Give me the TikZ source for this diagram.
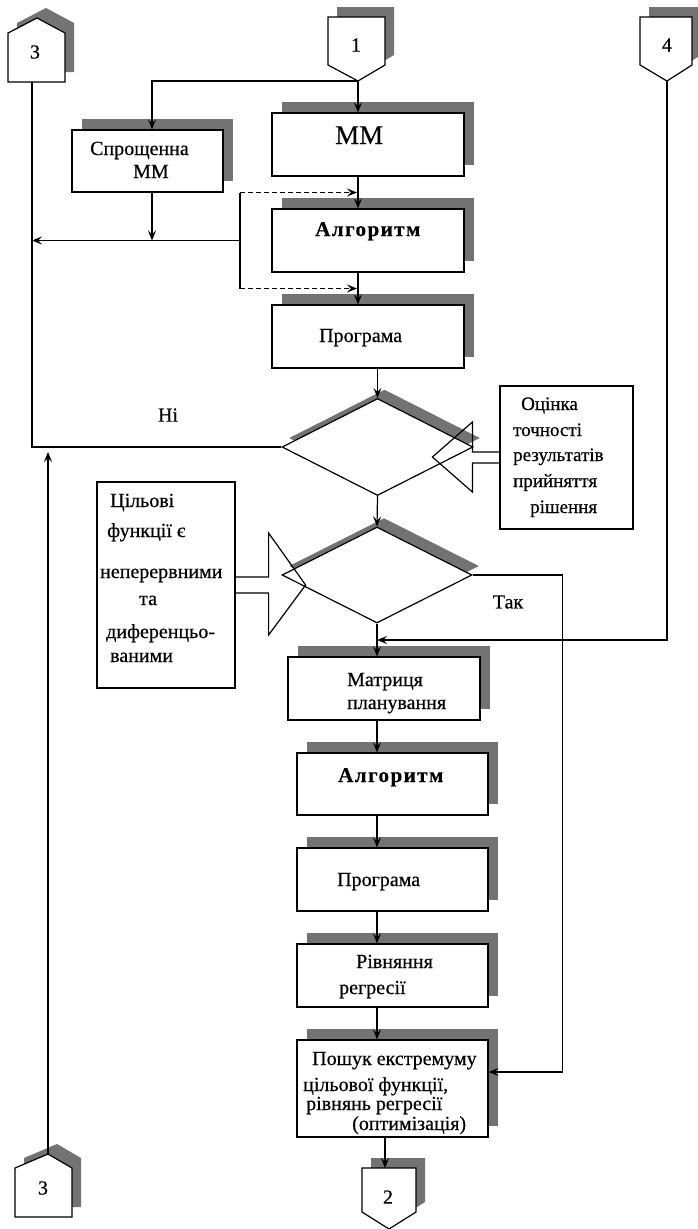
\documentclass[tikz,border=0pt]{standalone}
\usepackage{fontspec}
\setmainfont{Liberation Serif}[FakeBold=0.5]
\usetikzlibrary{shapes.geometric,arrows.meta,shadows,calc}
\colorlet{shd}{black!55}
\begin{document}
\begin{tikzpicture}[x=1pt,y=-1pt,
  every node/.style={font=\fontsize{20}{24}\selectfont},
  ln/.style={line width=1.2pt},
  arr/.style={ln,-{Stealth[length=10pt,width=8pt,inset=4pt]}},
  box/.style={draw,ln,fill=white,inner sep=0pt,
     drop shadow={shadow xshift=10pt,shadow yshift=11pt,fill=shd,opacity=1}},
  dia/.style={draw,ln,fill=white,diamond,inner sep=0pt,
     drop shadow={shadow xshift=7pt,shadow yshift=9pt,fill=shd,opacity=1}},
  note/.style={draw,ln,fill=white,inner sep=0pt},
  conn/.style={draw,ln,fill=white,
     drop shadow={shadow xshift=9pt,shadow yshift=10pt,fill=shd,opacity=1}},
  txt/.style={anchor=base west,inner sep=0pt},
  algo/.style={txt,font=\fontsize{21}{24}\selectfont\bfseries\addfontfeature{LetterSpace=7}},
  callout/.style={draw,ln},
  dsh/.style={dash pattern=on 5pt off 3pt},
]
\useasboundingbox (0,0) rectangle (698,1229);

% off-page connectors
\path[conn] (8,82) -- (8,33) -- (37,18) -- (65,33) -- (65,82) -- cycle;
\node (c3t) at (35,52) {3};
\coordinate (c3tb) at (32,82);

\path[conn] (328,17) -- (385,17) -- (385,65) -- (358,81) -- (328,65) -- cycle;
\node (c1) at (356,45) {1};
\coordinate (c1tip) at (358,81);

\path[conn] (640,17) -- (692,17) -- (692,65) -- (667,81) -- (640,65) -- cycle;
\node (c4) at (667,45) {4};
\coordinate (c4tip) at (667,81);

\path[conn] (362,1168) -- (416,1168) -- (416,1212) -- (389,1229) -- (362,1212) -- cycle;
\node (c2) at (388,1197) {2};
\coordinate (c2top) at (385,1168);

\path[conn] (15,1217) -- (15,1168) -- (48,1154) -- (72,1168) -- (72,1217) -- cycle;
\node (c3b) at (43,1188) {3};
\coordinate (c3bp) at (48,1154);

% boxes
\node[box,minimum width=151pt,minimum height=62pt] (spr) at (147.5,161) {};
\node[box,minimum width=192pt,minimum height=63pt] (mm) at (368,144.5) {};
\node[box,minimum width=192pt,minimum height=63pt] (alg1) at (368,240.5) {};
\node[box,minimum width=192pt,minimum height=63pt] (prog1) at (368,336.5) {};
\node[box,minimum width=192pt,minimum height=63pt] (matr) at (384,688.5) {};
\node[box,minimum width=191pt,minimum height=62pt] (alg2) at (392.5,784) {};
\node[box,minimum width=191pt,minimum height=63pt] (prog2) at (392.5,879.5) {};
\node[box,minimum width=191pt,minimum height=63pt] (rivn) at (392.5,975.5) {};
\node[box,minimum width=191pt,minimum height=97pt] (posh) at (392.5,1088.5) {};

% decisions
\node[dia,minimum width=191pt,minimum height=97pt] (d1) at (377.5,447) {};
\node[dia,minimum width=190pt,minimum height=96pt] (d2) at (377,575) {};

% notes
\node[note,minimum width=133pt,minimum height=143pt] (ocin) at (566.5,457.5) {};
\node[note,minimum width=138pt,minimum height=206pt] (tsil) at (166,585) {};

% callouts (hollow arrows)
\draw[callout] (ocin.west) ++(0,-5.5) -- ++(-27,0) -- ++(0,-30) -- ++(-40,35)
   -- ++(40,35) -- ++(0,-29) -- ++(27,0);
\draw[callout] (tsil.east) ++(0,-8) -- ++(33,0) -- ++(0,-44) -- ++(37,52)
   -- ++(-37,50) -- ++(0,-42) -- ++(-33,0);

% texts
\node[txt] (tspr1) at (90,155) {Спрощенна};
\node[txt] (tspr2) at (133,178) {ММ};
\node[txt,font=\fontsize{27}{30}\selectfont] (tmm) at (335,144) {ММ};
\node[algo] (talg1) at (315,236) {Алгоритм};
\node[txt] (tprog1) at (319,342) {Програма};
\node[txt] (tmat1) at (347,686) {Матриця};
\node[txt] (tmat2) at (347,709) {планування};
\node[algo] (talg2) at (338,782) {Алгоритм};
\node[txt] (tprog2) at (337,886) {Програма};
\node[txt] (triv1) at (356,968) {Рівняння};
\node[txt] (triv2) at (339,994) {регресії};
\node[txt] (tpos1) at (312,1065) {Пошук екстремуму};
\node[txt] (tpos2) at (303,1091) {цільової функції,};
\node[txt] (tpos3) at (306,1110) {рівнянь регресії};
\node[txt] (tpos4) at (352,1130) {(оптимізація)};

\node[txt,font=\fontsize{19}{22}\selectfont] (toc1) at (521,410) {Оцінка};
\node[txt,font=\fontsize{19}{22}\selectfont] (toc2) at (513,436) {точності};
\node[txt,font=\fontsize{19}{22}\selectfont] (toc3) at (513,461) {результатів};
\node[txt,font=\fontsize{19}{22}\selectfont] (toc4) at (513,487) {прийняття};
\node[txt,font=\fontsize{19}{22}\selectfont] (toc5) at (530,513) {рішення};

\node[txt] (tts1) at (110,507) {Цільові};
\node[txt] (tts2) at (107,537) {функції є};
\node[txt] (tts3) at (100,578) {неперервними};
\node[txt] (tts4) at (139,605) {та};
\node[txt] (tts5) at (106,638) {диференцьо-};
\node[txt] (tts6) at (110,662) {ваними};

\node (ni) at (168,415) {Ні};
\node (tak) at (508,602) {Так};

% helper coordinates
\coordinate (sprx) at (152,0);
\coordinate (loopx) at (240,0);
\coordinate (dj1) at ($(mm.south)!.5!(alg1.north)$);
\coordinate (dj2) at ($(alg1.south)!.5!(prog1.north)$);
\coordinate (ax) at (377,0);
\coordinate (j4) at ($(d2.south)!.5!(ax |- matr.north)$);

% connectors
\draw[arr] (c1tip) -| (sprx |- spr.north);
\draw[arr] (c1tip) -- (c1tip |- mm.north);
\draw[arr] (c1tip |- mm.south) -- (c1tip |- alg1.north);
\draw[arr] (c1tip |- alg1.south) -- (c1tip |- prog1.north);
\draw[arr] (d1.north |- prog1.south) -- (d1.north);
\draw[arr] (d1.south) -- (d2.north);
\draw[arr] (d2.south) -- (ax |- matr.north);
\draw[arr] (ax |- matr.south) -- (ax |- alg2.north);
\draw[arr] (ax |- alg2.south) -- (ax |- prog2.north);
\draw[arr] (ax |- prog2.south) -- (ax |- rivn.north);
\draw[arr] (ax |- rivn.south) -- (ax |- posh.north);
\draw[arr] (c2top |- posh.south) -- (c2top);

\draw[arr] (sprx |- spr.south) -- (sprx |- alg1.west);
\draw[arr] (loopx |- alg1.west) -- (c3tb |- alg1.west);
\draw[ln] (loopx |- dj1) -- (loopx |- dj2);
\draw[arr,dsh,shorten >=1pt] (loopx |- dj1) -- (c1tip |- dj1);
\draw[arr,dsh,shorten >=1pt] (loopx |- dj2) -- (c1tip |- dj2);

\draw[ln] (d1.west) -| (c3tb);
\draw[arr,shorten >=5pt] (c3bp) -- (c3bp |- d1.west);
\draw[arr] (c4tip) |- (j4);
\draw[arr] (d2.east) -| ($(posh.east)+(74,-16.5)$) |- ($(posh.east)+(0,-16.5)$);
\end{tikzpicture}
\end{document}
